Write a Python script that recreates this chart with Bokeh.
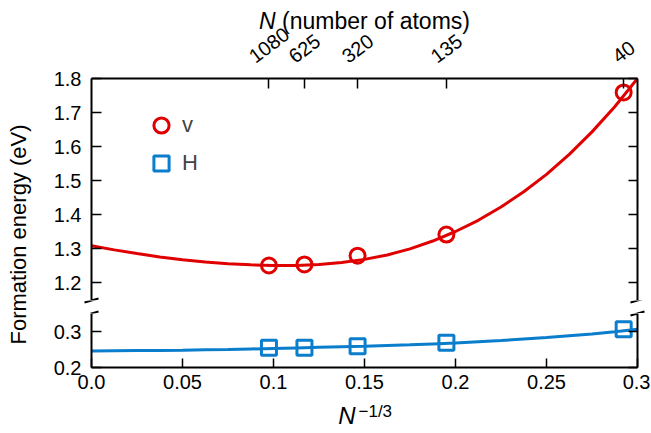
import math
from bokeh.plotting import figure
from bokeh.models import (Range1d, LinearAxis, FixedTicker, Label, Arrow,
                          Legend, LegendItem)
from bokeh.layouts import row, column
from bokeh.embed import file_html
from bokeh.resources import INLINE

# ---------------- data ----------------
N_atoms = ["1080", "625", "320", "135", "40"]
x_inv = [0.0975, 0.1170, 0.1462, 0.1950, 0.2924]          # N^-1/3
E_v = [1.250, 1.253, 1.279, 1.341, 1.759]
E_H = [0.255, 0.255, 0.259, 0.269, 0.306]

fit_x = [0.0, 0.0125, 0.025, 0.0375, 0.05, 0.0625, 0.075, 0.0875, 0.1, 0.1125,
         0.125, 0.1375, 0.15, 0.1625, 0.175, 0.1875, 0.2, 0.2125, 0.225, 0.2375,
         0.25, 0.2625, 0.275, 0.2875, 0.3]
fit_v = [1.308, 1.296, 1.285, 1.275, 1.267, 1.260, 1.255, 1.252, 1.250, 1.250,
         1.253, 1.259, 1.268, 1.281, 1.299, 1.322, 1.350, 1.383, 1.422, 1.467,
         1.518, 1.577, 1.643, 1.717, 1.800]
fit_H = [0.246, 0.2465, 0.247, 0.2475, 0.248, 0.249, 0.250, 0.2515, 0.253, 0.2545,
         0.256, 0.2575, 0.259, 0.261, 0.263, 0.2655, 0.268, 0.2715, 0.275, 0.279,
         0.283, 0.288, 0.293, 0.299, 0.306]

x_ticks = [0.0, 0.05, 0.1, 0.15, 0.2, 0.25, 0.3]
x_tick_labels = ["0.0", "0.05", "0.1", "0.15", "0.2", "0.25", "0.3"]
y_ticks_top = [1.2, 1.3, 1.4, 1.5, 1.6, 1.7, 1.8]
y_ticks_bot = [0.2, 0.3]

# ---------------- style / layout (pixels) ----------------
RED = "#e00000"
BLUE = "#0a7dcc"
FONT = "Liberation Sans"
TICK_FS = "20px"

TITLE_W = 36
FIG_W = 614
BORDER_L, BORDER_R = 55, 13
FRAME_W = FIG_W - BORDER_L - BORDER_R          # 546
HEAD_H = 68
TOP_BORDER = 10
TOP_FRAME_H = 222
GAP_H = 13
BOT_FRAME_H = 54
BOT_BORDER = 31
FOOT_H = 34
TOTAL_H = HEAD_H + TOP_BORDER + TOP_FRAME_H + GAP_H + BOT_FRAME_H + BOT_BORDER + FOOT_H

PX_TOP = 0.1 / 34.0
PX_BOT = 0.1 / 36.0
PX_X = 0.3 / FRAME_W

x_range = Range1d(0.0, 0.3)
top_y = Range1d(1.8 - TOP_FRAME_H * PX_TOP, 1.8)
bot_y = Range1d(0.2, 0.2 + BOT_FRAME_H * PX_BOT)


def style_axis(ax, tick_len, show_labels=True):
    ax.axis_line_width = 2
    ax.axis_line_color = "black"
    ax.major_tick_in = tick_len
    ax.major_tick_out = 0
    ax.major_tick_line_width = 1.5
    ax.major_tick_line_color = "black"
    ax.minor_tick_line_color = None
    ax.major_label_text_font = FONT
    if show_labels:
        ax.major_label_text_color = "black"
        ax.major_label_text_font_size = TICK_FS
    else:
        ax.major_label_text_color = None
        ax.major_label_text_font_size = "0px"
        ax.major_label_standoff = 0


def clean(f):
    f.outline_line_color = None
    f.xgrid.visible = False
    f.ygrid.visible = False
    f.background_fill_color = "white"
    f.border_fill_color = "white"
    f.title.visible = False
    f.frame_align = False
    return f


def bare_fig(width, height, xr, yr):
    """Full-frame helper figure (no axes, no borders)."""
    f = figure(width=width, height=height, x_range=xr, y_range=yr,
               toolbar_location=None, output_backend="svg",
               x_axis_location=None, y_axis_location=None,
               min_border=0, min_border_left=0, min_border_right=0,
               min_border_top=0, min_border_bottom=0)
    return clean(f)


def strip_fig(height):
    # shares the panels' horizontal mapping: frame spans the whole width
    return bare_fig(FIG_W, height,
                    Range1d(-BORDER_L * PX_X, 0.3 + BORDER_R * PX_X),
                    Range1d(0, height))


def panel_fig(height, y_range, **kw):
    f = figure(width=FIG_W, height=height, x_range=x_range, y_range=y_range,
               toolbar_location=None, output_backend="svg",
               min_border_left=BORDER_L, min_border_right=BORDER_R, **kw)
    return clean(f)


# ---------------- header: top axis title and N tick labels ----------------
head = strip_fig(HEAD_H)
theta = math.radians(37)
for xv, lab in zip(x_inv, N_atoms):
    w = 0.556 * 20 * len(lab)
    half = (w * math.sin(theta) + 20 * math.cos(theta)) / 2
    head.add_layout(Label(x=xv, y=half + 2, text=lab, angle=theta,
                          text_align="center", text_baseline="middle",
                          text_font=FONT, text_font_size="20px", text_color="black"))
TFS = 23
total = 9.169 * TFS
head.add_layout(Label(x=0.15, y=48, text="N", text_font_style="italic",
                      text_align="left", text_baseline="middle",
                      x_offset=-total / 2, text_font=FONT,
                      text_font_size=f"{TFS}px", text_color="black"))
head.add_layout(Label(x=0.15, y=48, text="(number of atoms)",
                      text_align="left", text_baseline="middle",
                      x_offset=-total / 2 + 1.0 * TFS, text_font=FONT,
                      text_font_size=f"{TFS}px", text_color="black"))

# ---------------- upper panel (vacancy) ----------------
top = panel_fig(TOP_BORDER + TOP_FRAME_H, top_y, x_axis_location="above",
                min_border_top=TOP_BORDER, min_border_bottom=0)
style_axis(top.xaxis[0], 10, show_labels=False)
top.xaxis[0].ticker = FixedTicker(ticks=x_inv)
style_axis(top.yaxis[0], 10)
top.yaxis[0].ticker = FixedTicker(ticks=y_ticks_top)
top.yaxis[0].major_label_standoff = 10
r_ax = LinearAxis(ticker=FixedTicker(ticks=y_ticks_top))
style_axis(r_ax, 9, show_labels=False)
top.add_layout(r_ax, "right")

top.line(fit_x, fit_v, line_color=RED, line_width=3)
rv = top.scatter(x_inv, E_v, marker="circle", size=15, fill_color=None,
                 line_color=RED, line_width=3)
# legend swatch for H: the H points fall outside this panel's range,
# so this renderer only feeds the legend
rh_key = top.scatter(x_inv, E_H, marker="square", size=15, fill_color=None,
                     line_color=BLUE, line_width=3)

legend = Legend(items=[LegendItem(label="v", renderers=[rv]),
                       LegendItem(label="H", renderers=[rh_key])],
                location=(51, 118), glyph_width=38, glyph_height=38,
                label_text_font=FONT, label_text_font_size="22px",
                label_standoff=2, spacing=0, padding=0, margin=0,
                border_line_color=None, background_fill_alpha=0)
top.add_layout(legend)

# ---------------- lower panel (hydrogen) ----------------
bot = panel_fig(BOT_FRAME_H + BOT_BORDER, bot_y, min_border_top=0,
                min_border_bottom=BOT_BORDER)
style_axis(bot.xaxis[0], 9)
bot.xaxis[0].ticker = FixedTicker(ticks=x_ticks)
bot.xaxis[0].major_label_overrides = dict(zip(x_ticks, x_tick_labels))
bot.xaxis[0].major_label_standoff = 7
style_axis(bot.yaxis[0], 10)
bot.yaxis[0].ticker = FixedTicker(ticks=y_ticks_bot)
bot.yaxis[0].major_label_standoff = 10
r_ax2 = LinearAxis(ticker=FixedTicker(ticks=y_ticks_bot))
style_axis(r_ax2, 9, show_labels=False)
bot.add_layout(r_ax2, "right")

bot.line(fit_x, fit_H, line_color=BLUE, line_width=3)
rh = bot.scatter(x_inv, E_H, marker="square", size=15, fill_color=None,
                 line_color=BLUE, line_width=3)

# ---------------- gap with the axis-break marks ----------------
gap = strip_fig(GAP_H)
for xc in (0.0, 0.3):
    for f, ya, yb in ((top, top_y.start - 2 * PX_TOP, top_y.start + 2 * PX_TOP),
                      (gap, GAP_H - 2, GAP_H + 2),
                      (gap, -2, 2),
                      (bot, bot_y.end - 2 * PX_BOT, bot_y.end + 2 * PX_BOT)):
        f.add_layout(Arrow(start=None, end=None, x_start=xc - 7 * PX_X, y_start=ya,
                           x_end=xc + 7 * PX_X, y_end=yb,
                           line_width=2, line_color="black"))

# ---------------- footer: x axis title N^{-1/3} ----------------
foot = strip_fig(FOOT_H)
foot.add_layout(Label(x=0.15, y=17, text="N", text_font_style="italic",
                      text_align="right", text_baseline="middle",
                      x_offset=-9, text_font=FONT,
                      text_font_size="24px", text_color="black"))
foot.add_layout(Label(x=0.15, y=21, text="\u22121/3",
                      text_align="left", text_baseline="middle",
                      x_offset=-6, text_font=FONT,
                      text_font_size="17px", text_color="black"))

# ---------------- y axis title (spans both panels) ----------------
ttl = bare_fig(TITLE_W, TOTAL_H, Range1d(0, TITLE_W), Range1d(0, TOTAL_H))
ttl.add_layout(Label(x=18, y=TOTAL_H - 234, text="Formation energy (eV)",
                     angle=math.pi / 2, text_align="center", text_baseline="middle",
                     text_font=FONT, text_font_size="22px", text_color="black"))

layout = row(ttl, column(head, top, gap, bot, foot, spacing=0), spacing=0)

with open("out.html", "w") as fh:
    fh.write(file_html(layout, INLINE))
